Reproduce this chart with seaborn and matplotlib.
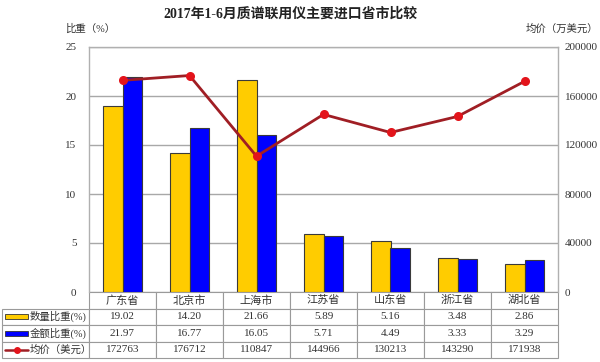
import matplotlib
matplotlib.use('Agg')
import matplotlib.pyplot as plt
import seaborn as sns
import pandas as pd
from matplotlib.patches import Rectangle
from matplotlib.lines import Line2D

provinces = ['广东省', '北京市', '上海市', '江苏省', '山东省', '浙江省', '湖北省']
qty_share = [19.02, 14.20, 21.66, 5.89, 5.16, 3.48, 2.86]
amt_share = [21.97, 16.77, 16.05, 5.71, 4.49, 3.33, 3.29]
avg_price = [172763, 176712, 110847, 144966, 130213, 143290, 171938]
series_names = ['数量比重(%)', '金额比重(%)', '均价（美元）']
bar_colors = ['#FFCC00', '#0000FF']
left_ticks = [0, 5, 10, 15, 20, 25]
right_ticks = [0, 40000, 80000, 120000, 160000, 200000]

sns.set_theme(style='white')
plt.rcParams['font.family'] = ['Liberation Serif', 'Noto Sans CJK SC']

df = pd.DataFrame({
    '省市': provinces * 2,
    '比重': qty_share + amt_share,
    '系列': [series_names[0]] * 7 + [series_names[1]] * 7,
})

W, H = 600, 362
L, R, T, B = 89, 558, 47, 292
fig = plt.figure(figsize=(W / 100, H / 100), dpi=100)
ax = fig.add_axes([L / W, 1 - B / H, (R - L) / W, (B - T) / H])

def px(x):
    return (x - L) / (R - L)

def py(y):
    return (B - y) / (B - T)

sns.barplot(data=df, x='省市', y='比重', hue='系列', order=provinces,
            palette=bar_colors, saturation=1, width=0.58, edgecolor='#3a3a3a',
            linewidth=0.8, ax=ax, legend=False, zorder=3)
ax.set_ylim(0, 25)
ax.set_yticks(left_ticks)
ax.set_xlim(-0.5, 6.5)
ax.set_xlabel('')
ax.set_ylabel('')
ax.set_xticks([])
ax.yaxis.grid(True, color='#a8a8a8', linewidth=1)
ax.set_axisbelow(True)
ax.tick_params(axis='y', labelsize=8, labelcolor='#333333', pad=9,
               length=0)
for s in ['left', 'top', 'right']:
    ax.spines[s].set_color('#b0b0b0')
    ax.spines[s].set_linewidth(1)
ax.spines['bottom'].set_visible(False)

ax2 = ax.twinx()
sns.pointplot(x=provinces, y=avg_price, order=provinces, color='#A01E24',
              marker='o', markersize=5, linewidth=2,
              markerfacecolor='#E3141B', markeredgecolor='#E3141B', ax=ax2)
ax2.set_ylim(0, 200000)
ax2.set_yticks(right_ticks)
ax2.set_xlim(-0.5, 6.5)
ax2.set_xticks([])
ax2.set_ylabel('')
ax2.tick_params(axis='y', labelsize=8, labelcolor='#333333', pad=5, length=0)
for s in ax2.spines.values():
    s.set_visible(False)

# data table under the plot
rows = [[''] + [f'{v:.2f}' for v in qty_share],
        [''] + [f'{v:.2f}' for v in amt_share],
        [''] + [f'{v}' for v in avg_price]]
tw = 558 - 2
tbl = ax.table(cellText=rows, colLabels=[''] + provinces,
               colWidths=[87 / tw] + [67 / tw] * 7, cellLoc='center',
               bbox=[px(2), py(358), (558 - 2) / (R - L), (358 - 292) / (B - T)])
tbl.auto_set_font_size(False)
tbl.set_fontsize(8)
for (r, c), cell in tbl.get_celld().items():
    cell.set_edgecolor('#9a9a9a')
    cell.set_linewidth(0.8)
    cell.get_text().set_color('#333333')
tbl[0, 0].visible_edges = 'open'

# row labels with legend glyphs
row_h = (358 - 292) / 4
for i, name in enumerate(series_names):
    yc = 292 + row_h * (i + 1) + row_h / 2
    if i < 2:
        ax.add_patch(Rectangle((px(5), py(yc + 2.5)), px(28) - px(5),
                               py(yc - 2.5) - py(yc + 2.5),
                               facecolor=bar_colors[i], edgecolor='#333333',
                               linewidth=0.6, transform=ax.transAxes,
                               clip_on=False))
    else:
        ax.add_line(Line2D([px(5), px(28)], [py(yc), py(yc)], color='#A01E24',
                           linewidth=1.8, transform=ax.transAxes, clip_on=False))
        ax.add_line(Line2D([px(16.5)], [py(yc)], marker='o', markersize=4,
                           color='#E3141B', transform=ax.transAxes,
                           clip_on=False))
    ax.text(px(30), py(yc), name, transform=ax.transAxes, fontsize=7.5,
            color='#333333', ha='left', va='center', clip_on=False)

fig.text(290 / W, 1 - 14 / H, '2017年1-6月质谱联用仪主要进口省市比较',
         ha='center', va='center', fontsize=10, fontweight='bold',
         color='#222222')
fig.text(65 / W, 1 - 29 / H, '比重（%）', ha='left', va='center',
         fontsize=7.5, color='#333333')
fig.text(598 / W, 1 - 29 / H, '均价（万美元）', ha='right', va='center',
         fontsize=7.5, color='#333333')

fig.savefig('out.png', dpi=100)
